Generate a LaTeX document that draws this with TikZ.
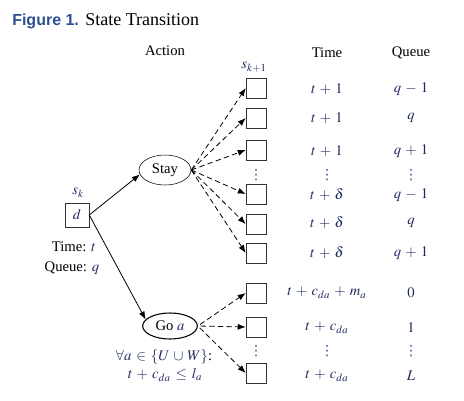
\documentclass[tikz,border=0pt]{standalone}
\usepackage{mathptmx}
\usepackage{fontspec}
\setmainfont{Liberation Serif}
\newfontfamily\figfont{Liberation Sans}
\newfontfamily\symfont{DejaVu Sans}
\usetikzlibrary{arrows.meta,shapes.geometric}
\definecolor{figblue}{RGB}{45,78,145}
\definecolor{mathblue}{RGB}{32,40,95}
\newcommand{\mb}[1]{\textcolor{mathblue}{$#1$}}
\newcommand{\vd}{\textcolor{figblue}{\symfont\fontsize{10.5}{11}\selectfont ⋮}}
\begin{document}
\begin{tikzpicture}[x=0.75pt,y=-0.75pt,inner sep=1pt,font=\fontsize{11}{13}\selectfont]
\medmuskip=5mu plus 2mu minus 2mu
\thickmuskip=6mu plus 3mu
\tikzstyle{state}=[draw=black!80,minimum size=15pt,inner sep=0pt]
\tikzstyle{act}=[draw,ellipse,inner sep=0pt]
\tikzstyle{dotsnode}=[inner sep=0pt]
\tikzstyle{move}=[semithick,-{Latex[length=6pt,width=4.5pt]}]
\tikzstyle{next}=[semithick,dash pattern=on 4pt off 2.5pt,-{Latex[length=6pt,width=4.5pt]}]
\useasboundingbox (0,0) rectangle (464,400);
    % title
    \node[anchor=base west,inner sep=0pt] (fig) at (12,25) {\figfont\bfseries\fontsize{12}{14}\selectfont\color{figblue}Figure 1.};
    \node[anchor=base west,inner sep=0pt] (title) at (85,25) {\fontsize{13.5}{16}\selectfont State Transition};
    % headers
    \node (action) at (165,51) {Action};
    \node (timehd) at (327,53) {Time};
    \node (queuehd) at (411,53) {Queue};
    \node (sknext) at (254,67) {\mb{s_{k+1}}};
    % current state
    \node (sk) at (78,193) {\mb{s_k}};
    \node[state,minimum size=18pt] (d) at (77,215) {\mb{d}};
    \node (time) at (74,247) {Time: \mb{t}};
    \node (queue) at (72,268) {Queue: \mb{q}};
    % actions
    \node[act,minimum width=39pt,minimum height=22.5pt] (stay) at (165,170) {Stay};
    \node[act,thick,minimum width=41pt,minimum height=19.5pt] (goa) at (170,326) {Go \mb{a}};
    \node (cond1) at (164,357) {\mb{\forall a\in\{U\cup W\}}:};
    \node (cond2) at (165,375) {\mb{t+c_{da}\le l_a}};
    % next states
    \node[state] (n1) at (256,88) {};
    \node[state] (n2) at (256,118) {};
    \node[state] (n3) at (256,150) {};
    \node[dotsnode] (dots1) at (256,175) {\vd};
    \node[state] (n4) at (256,194) {};
    \node[state] (n5) at (256,224) {};
    \node[state] (n6) at (256,253) {};
    \node[state] (n7) at (256,293) {};
    \node[state] (n8) at (256,327) {};
    \node[dotsnode] (dots2) at (256,351) {\vd};
    \node[state] (n9) at (256,373) {};
    % time column
    \node (t1) at (327,89) {\mb{t+1}};
    \node (t2) at (327,118) {\mb{t+1}};
    \node (t3) at (327,151) {\mb{t+1}};
    \node[dotsnode] (td1) at (327,175) {\vd};
    \node (t4) at (327,195) {\mb{t+\delta}};
    \node (t5) at (327,223) {\mb{t+\delta}};
    \node (t6) at (327,253) {\mb{t+\delta}};
    \node (t7) at (327,293) {\mb{t+c_{da}+m_a}};
    \node (t8) at (327,328) {\mb{t+c_{da}}};
    \node[dotsnode] (td2) at (327,351) {\vd};
    \node (t9) at (327,376) {\mb{t+c_{da}}};
    % queue column
    \node (q1) at (411,89) {\mb{q-1}};
    \node (q2) at (411,118) {\mb{q}};
    \node (q3) at (411,151) {\mb{q+1}};
    \node[dotsnode] (qd1) at (411,175) {\vd};
    \node (q4) at (411,195) {\mb{q-1}};
    \node (q5) at (411,223) {\mb{q}};
    \node (q6) at (411,253) {\mb{q+1}};
    \node (q7) at (411,293) {\mb{0}};
    \node (q8) at (411,328) {\mb{1}};
    \node[dotsnode] (qd2) at (411,351) {\vd};
    \node (q9) at (411,376) {\mb{L}};
    % transitions
    \draw [move] (d.east) -- (stay.190);
    \draw [move] (d.east) -- (goa.165);
    \draw [next] (stay.east) -- (n1.west);
    \draw [next] (stay.east) -- (n2.west);
    \draw [next] (stay.east) -- (n3.west);
    \draw [next] (stay.east) -- (n4.west);
    \draw [next] (stay.east) -- (n5.west);
    \draw [next] (stay.east) -- (n6.west);
    \draw [next,shorten <=2pt] (goa.east) -- (n7.west);
    \draw [next,shorten <=2pt] (goa.east) -- (n8.west);
    \draw [next,shorten <=2pt] (goa.east) -- (n9.west);
\end{tikzpicture}
\end{document}
